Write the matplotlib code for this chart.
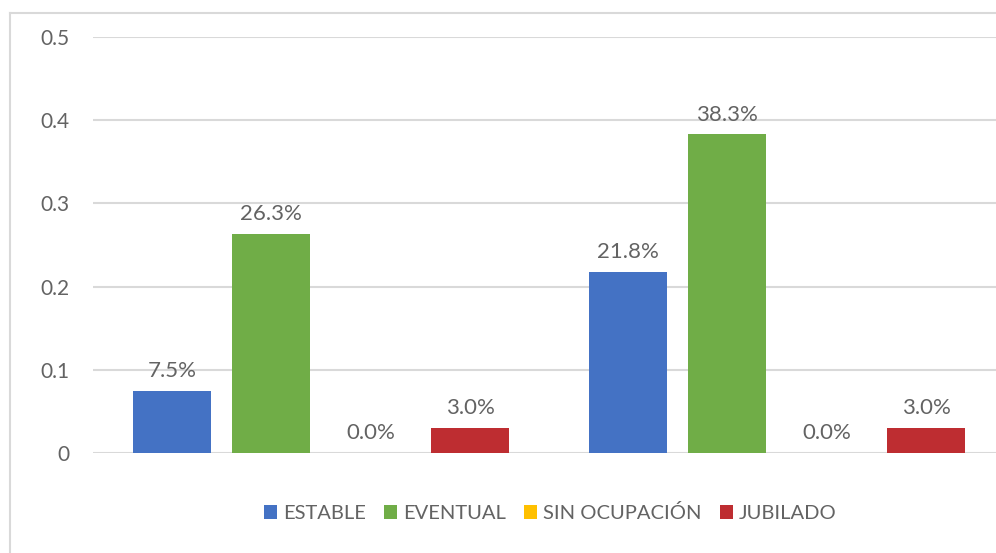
import matplotlib.pyplot as plt
import numpy as np
from matplotlib.lines import Line2D

plt.rcParams['font.family'] = ['Lato', 'DejaVu Sans']

# data
groups = ['Grupo 1', 'Grupo 2']
series = ['ESTABLE', 'EVENTUAL', 'SIN OCUPACIÓN', 'JUBILADO']
values = {
    'ESTABLE': [0.075, 0.218],
    'EVENTUAL': [0.263, 0.383],
    'SIN OCUPACIÓN': [0.0, 0.0],
    'JUBILADO': [0.030, 0.030],
}
colors = ['#4472C4', '#70AD47', '#FFC000', '#BE2D31']
yticks = [0, 0.1, 0.2, 0.3, 0.4, 0.5]
ytick_labels = ['0', '0.1', '0.2', '0.3', '0.4', '0.5']

text_col = '#636363'
grid_col = '#D9D9D9'

fig = plt.figure(figsize=(9.96, 5.53), dpi=100)
ax = fig.add_axes([93/996, (553-453)/553, (1005-93)/996, (453-37)/553])

x = np.arange(len(groups))
step = 0.218
width = 0.171
for i, (name, c) in enumerate(zip(series, colors)):
    pos = x + (i - 1.5) * step
    bars = ax.bar(pos, values[name], width, color=c, label=name, zorder=3)
    for b, v in zip(bars, values[name]):
        ax.annotate(f'{v*100:.1f}%', (b.get_x() + b.get_width()/2, v),
                    xytext=(0, 7), textcoords='offset points',
                    ha='center', va='bottom', fontsize=16, color=text_col)

ax.set_xlim(-0.5, 1.5)
ax.set_ylim(0, 0.5)
ax.set_yticks(yticks)
ax.set_yticklabels(ytick_labels, fontsize=15, color=text_col)
ax.tick_params(axis='y', length=0, pad=17)
ax.set_xticks([])
ax.grid(axis='y', color=grid_col, linewidth=1.5, zorder=0)
for s in ax.spines.values():
    s.set_visible(False)
ax.axhline(0, color=grid_col, linewidth=2, zorder=2)

leg = fig.legend(loc='center', bbox_to_anchor=(550/996, (553-513)/553), ncol=4,
                 frameon=False, fontsize=14.5, handlelength=0.65, handleheight=0.65,
                 handletextpad=0.3, columnspacing=0.9, labelcolor=text_col)

# outer chart frame
fig.add_artist(Line2D([10/996, 10/996], [0, (553-13)/553], color=grid_col, lw=1.5))
fig.add_artist(Line2D([10/996, 1], [(553-13)/553, (553-13)/553], color=grid_col, lw=1.5))

fig.savefig('out.png', dpi=100)
